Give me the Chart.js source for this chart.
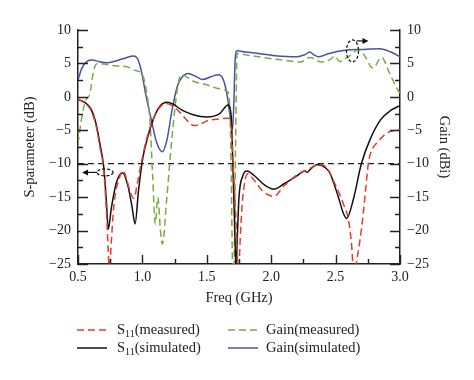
<!DOCTYPE html>
<html lang="en">
<head>
<meta charset="UTF-8">
<title>S-parameter and Gain</title>
<style>
  html, body { margin: 0; padding: 0; background: #fff; }
</style>
<script src="https://cdn.jsdelivr.net/npm/chart.js"></script>
</head>
<body>
<canvas id="chart" width="474" height="380"></canvas>
<script>
// --- data ---
const s11MeasFreq = [0.5, 0.55, 0.6, 0.64, 0.67, 0.7, 0.72, 0.735, 0.745, 0.755, 0.78, 0.82, 0.85, 0.88, 0.91, 0.935, 0.96, 0.99, 1.03, 1.08, 1.13, 1.18, 1.23, 1.3, 1.36, 1.4, 1.45, 1.5, 1.6, 1.665, 1.69, 1.71, 1.73, 1.745, 1.76, 1.775, 1.8, 1.82, 1.86, 1.93, 2.02, 2.1, 2.2, 2.28, 2.38, 2.44, 2.48, 2.53, 2.56, 2.6, 2.625, 2.642, 2.66, 2.7, 2.73, 2.754, 2.78, 2.82, 2.9, 3.0];
const s11MeasVal  = [-0.3, -0.9, -2, -4.3, -7.5, -11, -17, -23, -27, -23, -16, -12.2, -11, -12.5, -14.5, -15.2, -13, -10, -6.5, -3.5, -1.7, -1, -1.3, -2.5, -3.8, -4.3, -4.1, -3.6, -3.3, -3.2, -5, -12, -20, -27, -21, -16, -12.2, -11.5, -12.3, -14, -14.9, -13.3, -11.7, -10.9, -10.1, -10.8, -12.4, -14.5, -16, -18.4, -22.3, -27, -25, -19.9, -14.5, -10, -8, -6.9, -5.4, -4.9];

const s11SimFreq = [0.5, 0.55, 0.6, 0.64, 0.67, 0.7, 0.72, 0.735, 0.76, 0.8, 0.847, 0.89, 0.92, 0.943, 0.97, 1.0, 1.046, 1.098, 1.14, 1.19, 1.24, 1.3, 1.4, 1.5, 1.6, 1.665, 1.69, 1.705, 1.72, 1.727, 1.735, 1.75, 1.78, 1.81, 1.87, 1.95, 2.02, 2.1, 2.2, 2.26, 2.28, 2.3, 2.36, 2.42, 2.456, 2.52, 2.56, 2.586, 2.637, 2.7, 2.767, 2.85, 2.93, 3.0];
const s11SimVal  = [-0.4, -0.8, -1.8, -4, -7, -10.5, -15.5, -19.8, -16.5, -12.7, -11.4, -13.5, -16.5, -19, -14, -9.5, -5.7, -2.7, -1.3, -0.8, -1.1, -1.9, -2.7, -3, -2.5, -1.2, -3, -12, -22, -26, -22, -15, -11.8, -11.1, -11.8, -13.2, -13.8, -13, -11.8, -11.1, -11.3, -10.9, -10.1, -10.6, -11.4, -14.9, -17.4, -18.2, -15.4, -10, -6.4, -3.4, -2, -1.3];

const gainMeasFreq = [0.5, 0.53, 0.56, 0.59, 0.62, 0.65, 0.7, 0.8, 0.88, 0.94, 1.0, 1.03, 1.06, 1.08, 1.1, 1.12, 1.14, 1.155, 1.19, 1.23, 1.27, 1.3, 1.4, 1.5, 1.6, 1.66, 1.68, 1.69, 1.7, 1.71, 1.725, 1.735, 1.8, 1.9, 2.0, 2.1, 2.224, 2.3, 2.39, 2.45, 2.495, 2.53, 2.6, 2.676, 2.72, 2.79, 2.857, 2.92, 2.99, 3.0];
const gainMeasVal  = [-7, -3, -0.5, 0.3, 3.8, 5, 4.9, 4.6, 4.5, 4.0, 3.3, 1, -4, -12, -19, -15, -20, -22, -15, -6, 1, 3.3, 2.3, 1.8, 1.2, 0.8, -2, -12, -25, -26, -5, 6.5, 6.3, 6.0, 5.7, 5.5, 5.2, 5.9, 5.2, 5.5, 6.1, 5.3, 6.0, 7.0, 6.3, 4.3, 5.9, 3.5, 0.8, 0.6];

const gainSimFreq = [0.5, 0.53, 0.57, 0.61, 0.66, 0.72, 0.8, 0.88, 0.93, 0.96, 0.99, 1.03, 1.07, 1.11, 1.155, 1.19, 1.23, 1.27, 1.31, 1.357, 1.41, 1.47, 1.53, 1.59, 1.63, 1.66, 1.685, 1.7, 1.71, 1.72, 1.735, 1.8, 1.9, 2.05, 2.2, 2.26, 2.3, 2.33, 2.37, 2.45, 2.59, 2.7, 2.845, 2.93, 3.0];
const gainSimVal  = [2.5, 4.3, 5.3, 5.5, 5.3, 5.1, 5.4, 5.9, 6.1, 5.8, 4, 0, -3.5, -6.8, -8.2, -6.5, -2, 1.5, 3, 3.5, 3.1, 2.6, 3.0, 3.3, 2.5, 0, -3.5, -4.8, -1, 5.5, 6.9, 6.7, 6.5, 6.1, 6.0, 6.3, 6.7, 6.3, 6.0, 6.5, 7.0, 7.1, 7.2, 6.7, 6.0];

const refFreq = [0.5, 3.0];
const refVal  = [-10, -10];

const xMin = 0.5, xMax = 3.0, yMin = -25, yMax = 10;
const legendLabels = [['S', '11', '(measured)'], ['S', '11', '(simulated)'], ['Gain(measured)'], ['Gain(simulated)']];

const serif = "'Liberation Serif', 'DejaVu Serif', serif";
Chart.defaults.font.family = serif;
Chart.defaults.color = '#222';

function pts(xs, ys) {
    return xs.map((x, i) => ({ x: x, y: ys[i] }));
}
function minus(v) {
    return v < 0 ? '\u2212' + Math.abs(v) : String(v);
}

// inward tick marks, like the original plot
const tickMarks = {
    id: 'tickMarks',
    afterDraw(chart) {
        const ctx = chart.ctx, a = chart.chartArea;
        const sx = chart.scales.x, sy = chart.scales.y;
        ctx.save();
        ctx.strokeStyle = '#222';
        ctx.lineWidth = 1.4;
        ctx.beginPath();
        for (let i = 0; i <= 10; i++) {
            const v = xMin + i * 0.25;
            const px = Math.round(sx.getPixelForValue(v)) + 0.5;
            const len = i % 2 === 0 ? 9 : 5;
            ctx.moveTo(px, a.bottom); ctx.lineTo(px, a.bottom - len);
        }
        for (let i = 0; i <= 14; i++) {
            const v = yMin + i * 2.5;
            const py = Math.round(sy.getPixelForValue(v)) + 0.5;
            const len = i % 2 === 0 ? 10 : 5;
            ctx.moveTo(a.left, py); ctx.lineTo(a.left + len, py);
            ctx.moveTo(a.right, py); ctx.lineTo(a.right - len, py);
        }
        ctx.stroke();
        ctx.restore();
    }
};

// dashed ellipses with arrows pointing to the matching axis
const axisHints = {
    id: 'axisHints',
    afterDatasetsDraw(chart) {
        const ctx = chart.ctx, sx = chart.scales.x, sy = chart.scales.y;
        ctx.save();
        ctx.strokeStyle = '#111';
        ctx.fillStyle = '#111';
        ctx.lineWidth = 1.2;

        // left (S11)
        let cx = sx.getPixelForValue(0.71), cy = sy.getPixelForValue(-11.3);
        ctx.setLineDash([3, 2]);
        ctx.beginPath(); ctx.ellipse(cx, cy, 8, 3.5, 0, 0, Math.PI * 2); ctx.stroke();
        ctx.setLineDash([]);
        ctx.beginPath(); ctx.moveTo(cx - 8, cy); ctx.lineTo(cx - 18, cy); ctx.stroke();
        ctx.beginPath(); ctx.moveTo(cx - 23, cy); ctx.lineTo(cx - 17, cy - 3); ctx.lineTo(cx - 17, cy + 3); ctx.closePath(); ctx.fill();

        // right (gain)
        cx = sx.getPixelForValue(2.631); cy = sy.getPixelForValue(6.87);
        ctx.setLineDash([3, 2]);
        ctx.beginPath(); ctx.ellipse(cx, cy, 6, 11, 0, 0, Math.PI * 2); ctx.stroke();
        ctx.setLineDash([]);
        ctx.beginPath(); ctx.moveTo(cx + 4, cy - 10); ctx.lineTo(cx + 11, cy - 10); ctx.stroke();
        ctx.beginPath(); ctx.moveTo(cx + 16, cy - 10); ctx.lineTo(cx + 10, cy - 13); ctx.lineTo(cx + 10, cy - 7); ctx.closePath(); ctx.fill();
        ctx.restore();
    }
};

// two-column legend under the axis title
const bottomLegend = {
    id: 'bottomLegend',
    afterDraw(chart) {
        const ctx = chart.ctx;
        const ds = chart.data.datasets;
        const spots = [[77, 330], [77, 348], [228, 330], [228, 348]];
        ctx.save();
        ctx.textBaseline = 'middle';
        ctx.fillStyle = '#222';
        for (let i = 0; i < 4; i++) {
            const [x, y] = spots[i];
            ctx.strokeStyle = ds[i].borderColor;
            ctx.lineWidth = 1.5;
            ctx.setLineDash(ds[i].borderDash || []);
            ctx.beginPath(); ctx.moveTo(x, y); ctx.lineTo(x + 30, y); ctx.stroke();
            ctx.setLineDash([]);
            let tx = x + (i < 2 ? 40 : 38);
            const parts = legendLabels[i];
            if (parts.length === 3) {
                ctx.font = '14.5px ' + serif;
                ctx.fillText(parts[0], tx, y); tx += ctx.measureText(parts[0]).width;
                ctx.font = '10px ' + serif;
                ctx.fillText(parts[1], tx, y + 4); tx += ctx.measureText(parts[1]).width;
                ctx.font = '14.5px ' + serif;
                ctx.fillText(parts[2], tx, y);
            } else {
                ctx.font = '14.5px ' + serif;
                ctx.fillText(parts[0], tx, y);
            }
        }
        ctx.restore();
    }
};

const line = { pointRadius: 0, borderWidth: 1.5, fill: false, cubicInterpolationMode: 'monotone' };

new Chart(document.getElementById('chart').getContext('2d'), {
    type: 'line',
    data: {
        datasets: [
            Object.assign({ label: 'S11(measured)', data: pts(s11MeasFreq, s11MeasVal), borderColor: '#e8382f', borderDash: [7, 4], yAxisID: 'y' }, line),
            Object.assign({ label: 'S11(simulated)', data: pts(s11SimFreq, s11SimVal), borderColor: '#111111', yAxisID: 'y' }, line),
            Object.assign({ label: 'Gain(measured)', data: pts(gainMeasFreq, gainMeasVal), borderColor: '#7fa83f', borderDash: [7, 4], yAxisID: 'y2' }, line),
            Object.assign({ label: 'Gain(simulated)', data: pts(gainSimFreq, gainSimVal), borderColor: '#4a50a8', yAxisID: 'y2' }, line),
            Object.assign({ label: 'ref', data: pts(refFreq, refVal), borderColor: '#222', borderDash: [6, 4], yAxisID: 'y' }, line, { borderWidth: 1.2 })
        ]
    },
    options: {
        responsive: false,
        animation: false,
        layout: { padding: { top: 30, left: 0, right: 0, bottom: 70 } },
        plugins: { legend: { display: false }, tooltip: { enabled: false } },
        scales: {
            x: {
                type: 'linear', min: xMin, max: xMax,
                grid: { display: false, drawTicks: false },
                border: { display: true, color: '#222', width: 1.5 },
                ticks: { stepSize: 0.5, padding: 5, font: { size: 14 }, color: '#222', callback: v => v.toFixed(1) },
                title: { display: true, text: 'Freq (GHz)', font: { size: 14.5 }, color: '#222', padding: { top: 0, bottom: 3 } },
                afterFit: s => { s.height = 46; }
            },
            y: {
                position: 'left', min: yMin, max: yMax,
                grid: { display: false, drawTicks: false },
                border: { display: true, color: '#222', width: 1.5 },
                ticks: { stepSize: 5, padding: 7, font: { size: 14 }, color: '#222', callback: minus },
                title: { display: true, text: 'S-parameter (dB)', font: { size: 14.5 }, color: '#222', padding: { top: 21, bottom: 0 } },
                afterFit: s => { s.width = 78; }
            },
            y2: {
                position: 'right', min: yMin, max: yMax,
                grid: { display: false, drawTicks: false },
                border: { display: true, color: '#222', width: 1.5 },
                ticks: { stepSize: 5, padding: 7, font: { size: 14 }, color: '#222', callback: minus },
                title: { display: true, text: 'Gain (dBi)', font: { size: 14.5 }, color: '#222', padding: { top: 21, bottom: 0 } },
                afterFit: s => { s.width = 74; }
            }
        }
    },
    plugins: [tickMarks, axisHints, bottomLegend]
});
</script>
</body>
</html>
